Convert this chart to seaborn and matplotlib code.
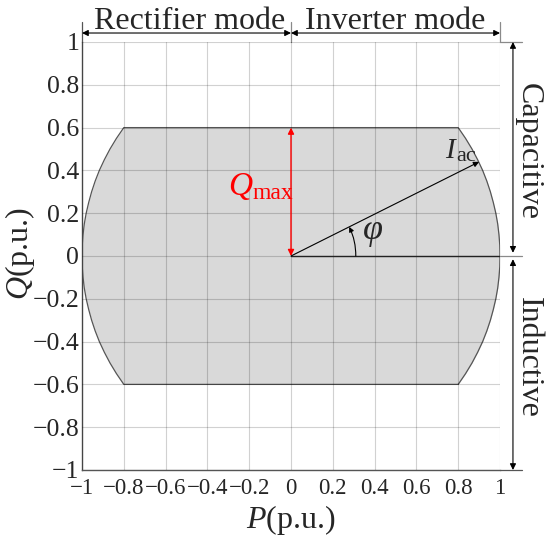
import numpy as np
import pandas as pd
import matplotlib
matplotlib.use("Agg")
import matplotlib.pyplot as plt
import seaborn as sns
from matplotlib.ticker import FixedLocator, FuncFormatter

# ---- data ----
q_max = 0.6
# right-hand boundary of the capability region (circle |S| = 1 clipped at +/-Qmax)
q_points = [-0.6, -0.55, -0.5, -0.45, -0.4, -0.35, -0.3, -0.25, -0.2, -0.15, -0.1, -0.05, 0.0,
            0.05, 0.1, 0.15, 0.2, 0.25, 0.3, 0.35, 0.4, 0.45, 0.5, 0.55, 0.6]
p_right = [0.8, 0.835, 0.866, 0.893, 0.917, 0.937, 0.954, 0.968, 0.980, 0.989, 0.995, 0.999, 1.0,
           0.999, 0.995, 0.989, 0.980, 0.968, 0.954, 0.937, 0.917, 0.893, 0.866, 0.835, 0.8]
iac_tip = (0.90, 0.44)       # end of the I_ac phasor
phi_radius = 0.31            # radius of the angle marker
tick_values = [-1, -0.8, -0.6, -0.4, -0.2, 0, 0.2, 0.4, 0.6, 0.8, 1]
mode_labels = ["Rectifier mode", "Inverter mode"]
q_labels = ["Capacitive", "Inductive"]

# ---- style ----
sns.set_style("white")
plt.rcParams["font.family"] = ["Liberation Serif", "DejaVu Serif"]
plt.rcParams["mathtext.fontset"] = "custom"
plt.rcParams["mathtext.rm"] = "Liberation Serif"
plt.rcParams["mathtext.it"] = "Liberation Serif:italic"
plt.rcParams["axes.unicode_minus"] = True

fig = plt.figure(figsize=(5.5, 5.4), dpi=100)
ax = fig.add_axes([82 / 550, 1 - 470 / 540, 418 / 550, 428 / 540])

# outline of the region
p_out = list(p_right) + [-p for p in p_right[::-1]] + [p_right[0]]
q_out = list(q_points) + list(q_points[::-1]) + [q_points[0]]
outline = pd.DataFrame({"P": p_out, "Q": q_out})

ax.fill_betweenx(q_points, [-p for p in p_right], p_right, color="#d9d9d9", lw=0, zorder=1)
sns.lineplot(data=outline, x="P", y="Q", sort=False, estimator=None, ax=ax,
             color="#555555", lw=0.9, zorder=2)

ax.set_xlim(-1, 1)
ax.set_ylim(-1, 1)
ax.xaxis.set_major_locator(FixedLocator(tick_values))
ax.yaxis.set_major_locator(FixedLocator(tick_values))
fmt = FuncFormatter(lambda v, pos: ("%g" % v).replace("-", "\u2212"))
ax.xaxis.set_major_formatter(fmt)
ax.yaxis.set_major_formatter(fmt)
ax.tick_params(axis="both", length=0)
ax.tick_params(axis="y", pad=2, labelsize=18.5)
ax.tick_params(axis="x", pad=6, labelsize=16.5)
ax.grid(True, color="k", alpha=0.18, lw=0.8)
ax.set_axisbelow(False)
for s in ["top", "right"]:
    ax.spines[s].set_visible(False)
for s in ["left", "bottom"]:
    ax.spines[s].set_color("#555555")
    ax.spines[s].set_linewidth(1.0)

ax.set_xlabel("$P$(p.u.)", fontsize=23)
ax.set_ylabel("$Q$(p.u.)", fontsize=23)
ax.xaxis.label.set_va("center")
ax.yaxis.label.set_va("center")
ax.xaxis.set_label_coords(0.5, -0.117)
ax.yaxis.set_label_coords(-0.148, 0.505)

# extension lines outside the axes
ext_col = "#8a8a8a"
for p in [-1, 0, 1]:
    ax.plot([p, p], [1, 1.095], color=ext_col if p != -1 else "#555555", lw=0.9, clip_on=False)
for q in [1, 0, -1]:
    ax.plot([1, 1.105], [q, q], color=ext_col if q != -1 else "#555555", lw=0.9, clip_on=False)

# P axis reference line (phasor baseline)
ax.plot([0, 1], [0, 0], color="#222222", lw=1.0, zorder=3)

arrow_kw = dict(arrowstyle="<|-|>", color="k", lw=0.8, mutation_scale=9, shrinkA=0, shrinkB=0)
# mode arrows on top
ax.annotate("", xy=(0, 1.042), xytext=(-1, 1.042), arrowprops=arrow_kw, annotation_clip=False)
ax.annotate("", xy=(1, 1.042), xytext=(0, 1.042), arrowprops=arrow_kw, annotation_clip=False)
ax.text(-0.485, 1.062, mode_labels[0], fontsize=23, ha="center", va="baseline", clip_on=False)
ax.text(0.498, 1.062, mode_labels[1], fontsize=23, ha="center", va="baseline", clip_on=False)

# capacitive / inductive arrows on the right
ax.annotate("", xy=(1.062, 0.015), xytext=(1.062, 1), arrowprops=arrow_kw, annotation_clip=False)
ax.annotate("", xy=(1.062, -1), xytext=(1.062, -0.015), arrowprops=arrow_kw, annotation_clip=False)
ax.text(1.135, 0.49, q_labels[0], fontsize=23, rotation=-90, ha="center", va="center", clip_on=False)
ax.text(1.135, -0.475, q_labels[1], fontsize=23, rotation=-90, ha="center", va="center", clip_on=False)

# Qmax red arrow
ax.annotate("", xy=(0, q_max), xytext=(0, 0),
            arrowprops=dict(arrowstyle="<|-|>", color="red", lw=1.0, mutation_scale=9, shrinkA=0, shrinkB=0),
            zorder=4)
ax.text(-0.187, 0.285, "Q", fontsize=24, style="italic", color="red", ha="right", va="baseline")
ax.text(-0.185, 0.266, "max", fontsize=17, color="red", ha="left", va="baseline")

# I_ac phasor
ax.annotate("", xy=iac_tip, xytext=(0, 0),
            arrowprops=dict(arrowstyle="-|>", color="k", lw=0.8, mutation_scale=8, shrinkA=0, shrinkB=0),
            zorder=4)
ax.text(0.785, 0.458, "I", fontsize=21, style="italic", ha="right", va="baseline")
ax.text(0.79, 0.444, "ac", fontsize=16, ha="left", va="baseline")

# phi angle marker
ang = np.arctan2(iac_tip[1], iac_tip[0])
ax.annotate("", xy=(phi_radius * np.cos(ang), phi_radius * np.sin(ang)), xytext=(phi_radius, 0),
            arrowprops=dict(arrowstyle="-|>", color="k", lw=0.8, mutation_scale=7, shrinkA=0, shrinkB=0,
                            connectionstyle="arc3,rad=%.3f" % (np.tan(ang / 2) / 2)),
            zorder=4)
ax.text(0.39, 0.11, "$\\varphi$", fontsize=26, ha="center", va="center")

fig.savefig("out.png", dpi=100)
